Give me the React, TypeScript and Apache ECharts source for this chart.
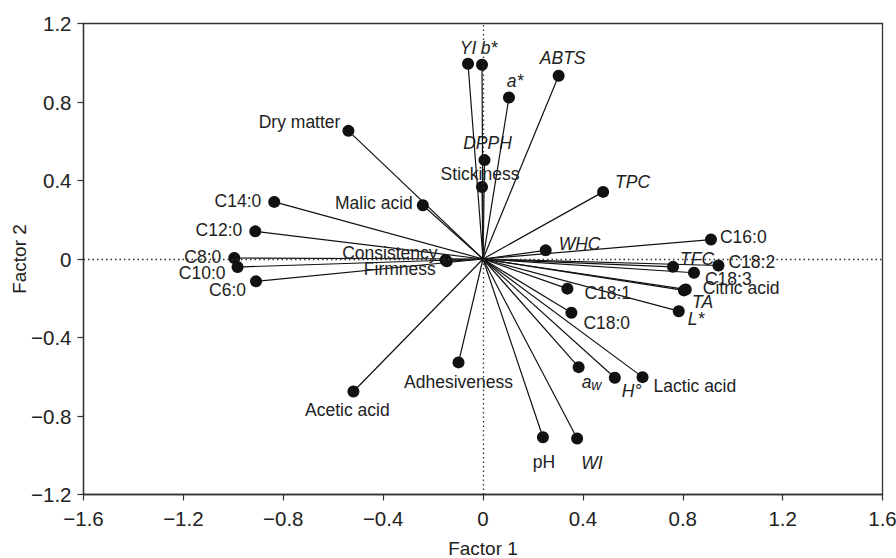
import React, { useEffect, useRef } from "react";
import * as echarts from "echarts";

// ---- data ----
const variableNames = [
  "YI", "b*", "a*", "ABTS", "DPPH", "Stickiness", "TPC", "Dry matter", "Malic acid",
  "C14:0", "C12:0", "C8:0", "C10:0", "C6:0", "Consistency", "Firmness", "WHC",
  "C16:0", "TFC", "C18:2", "C18:3", "Citric acid", "TA", "L*", "C18:1", "C18:0",
  "aw", "H°", "Lactic acid", "WI", "pH", "Acetic acid", "Adhesiveness",
];
const factor1Loadings = [
  -0.06, -0.004, 0.104, 0.303, 0.006, -0.004, 0.481, -0.539, -0.241,
  -0.836, -0.912, -0.996, -0.983, -0.909, -0.15, -0.145, 0.251,
  0.913, 0.761, 0.943, 0.845, 0.812, 0.805, 0.784, 0.338, 0.354,
  0.383, 0.528, 0.639, 0.377, 0.24, -0.519, -0.098,
];
const factor2Loadings = [
  0.995, 0.99, 0.823, 0.934, 0.504, 0.367, 0.342, 0.653, 0.274,
  0.291, 0.141, 0.005, -0.041, -0.114, -0.005, -0.012, 0.044,
  0.099, -0.04, -0.033, -0.07, -0.155, -0.16, -0.266, -0.151, -0.274,
  -0.551, -0.605, -0.602, -0.915, -0.908, -0.675, -0.527,
];
const italicNames = ["YI", "b*", "a*", "ABTS", "DPPH", "TPC", "WHC", "TFC", "TA", "L*", "aw", "H°", "WI"];

// ---- label placement (styling, pixel offsets from the dot centre) ----
type Align = "left" | "center" | "right";
const labelPlacement: Record<string, [number, number, Align]> = {
  YI: [0, -16, "center"],
  "b*": [7, -17, "center"],
  "a*": [6, -16, "center"],
  ABTS: [4, -18, "center"],
  DPPH: [3, -17, "center"],
  Stickiness: [-2, -13, "center"],
  TPC: [12, -10, "left"],
  "Dry matter": [-8, -9, "right"],
  "Malic acid": [-10, -2, "right"],
  "C14:0": [-13, -1, "right"],
  "C12:0": [-13, -1, "right"],
  "C8:0": [-13, -1, "right"],
  "C10:0": [-12, 6, "right"],
  "C6:0": [-10, 9, "right"],
  Consistency: [-8, -7, "right"],
  Firmness: [-11, 8, "right"],
  WHC: [13, -6, "left"],
  "C16:0": [9, -3, "left"],
  TFC: [7, -8, "left"],
  "C18:2": [10, -3, "left"],
  "C18:3": [11, 6, "left"],
  "Citric acid": [17, -1, "left"],
  TA: [8, 12, "left"],
  "L*": [9, 8, "left"],
  "C18:1": [17, 4, "left"],
  "C18:0": [12, 10, "left"],
  aw: [3, 15, "left"],
  "H°": [7, 13, "left"],
  "Lactic acid": [11, 9, "left"],
  WI: [4, 24, "left"],
  pH: [1, 25, "center"],
  "Acetic acid": [-6, 19, "center"],
  Adhesiveness: [0, 20, "center"],
};

const FONT = "'Liberation Sans', Arial, Helvetica, sans-serif";
const TEXT_COLOR = "#222";
const DOT = 12;
const LABEL_SIZE = 17.5;

const fmt = (v: number) => {
  if (Math.abs(v) < 1e-9) return "0";
  return (v < 0 ? "\u2212" : "") + Math.abs(v).toFixed(1);
};

export default function App() {
  const ref = useRef<HTMLDivElement>(null);
  useEffect(() => {
    if (!ref.current) return;
    const chart = echarts.init(ref.current, undefined, { renderer: "svg" });

    const scatterData = variableNames.map((n, i) => {
      const [dx, dy, align] = labelPlacement[n] || [8, 0, "left"];
      const italic = italicNames.includes(n);
      return {
        name: n,
        value: [factor1Loadings[i], factor2Loadings[i]],
        label: {
          show: true,
          position: [DOT / 2 + dx, DOT / 2 + dy],
          align,
          verticalAlign: "middle",
          fontStyle: italic ? "italic" : "normal",
          formatter: n === "aw" ? "{a|a}{w|w}" : n,
          rich:
            n === "aw"
              ? {
                  a: { fontStyle: "italic", fontSize: LABEL_SIZE, fontFamily: FONT, color: TEXT_COLOR },
                  w: {
                    fontStyle: "italic",
                    fontSize: 14,
                    fontFamily: FONT,
                    color: TEXT_COLOR,
                    verticalAlign: "bottom",
                    padding: [6, 0, 0, 0],
                  },
                }
              : undefined,
        },
      };
    });

    const lineData = variableNames.map((n, i) => ({
      coords: [
        [0, 0],
        [factor1Loadings[i], factor2Loadings[i]],
      ],
    }));

    const axisCommon = {
      type: "value",
      nameLocation: "middle",
      nameMoveOverlap: false,
      nameTextStyle: { fontSize: 19, color: TEXT_COLOR, fontFamily: FONT },
      axisLine: { show: true, onZero: false, lineStyle: { color: "#333", width: 1.3 } },
      axisTick: { show: true, inside: false, length: 6, lineStyle: { color: "#333", width: 1.2 } },
      splitLine: { show: false },
    };

    chart.setOption({
      animation: false,
      backgroundColor: "#fff",
      textStyle: { fontFamily: FONT, color: TEXT_COLOR },
      grid: {
        left: 83.5,
        right: 13.5,
        top: 23.5,
        bottom: 63.5,
        containLabel: false,
        outerBoundsMode: "none",
        show: true,
        borderColor: "#333",
        borderWidth: 1.3,
        backgroundColor: "transparent",
      },
      xAxis: {
        ...axisCommon,
        min: -1.6,
        max: 1.6,
        interval: 0.4,
        name: "Factor 1",
        nameGap: 44,
        axisLabel: { formatter: fmt, fontSize: 20.5, color: TEXT_COLOR, margin: 13, fontFamily: FONT },
      },
      yAxis: {
        ...axisCommon,
        min: -1.2,
        max: 1.2,
        interval: 0.4,
        name: "Factor 2",
        nameGap: 55,
        axisLabel: { formatter: fmt, fontSize: 20.5, color: TEXT_COLOR, margin: 12, fontFamily: FONT },
      },
      series: [
        {
          type: "lines",
          coordinateSystem: "cartesian2d",
          polyline: false,
          silent: true,
          symbol: "none",
          lineStyle: { color: "#111", width: 1.2, opacity: 1 },
          data: lineData,
          markLine: {
            silent: true,
            symbol: "none",
            label: { show: false },
            lineStyle: { color: "#333", type: [1.5, 3], width: 1.3 },
            data: [{ xAxis: 0 }, { yAxis: 0 }],
          },
          z: 2,
        },
        {
          type: "scatter",
          symbol: "circle",
          symbolSize: DOT,
          itemStyle: { color: "#111", opacity: 1 },
          label: { fontSize: LABEL_SIZE, fontFamily: FONT, color: TEXT_COLOR },
          labelLayout: { hideOverlap: false },
          emphasis: { disabled: true },
          data: scatterData,
          z: 3,
        },
      ],
    });
    return () => chart.dispose();
  }, []);

  return (
    <div
      ref={ref}
      style={{ position: "fixed", left: 0, top: 0, width: 896, height: 558, background: "#fff" }}
    />
  );
}
